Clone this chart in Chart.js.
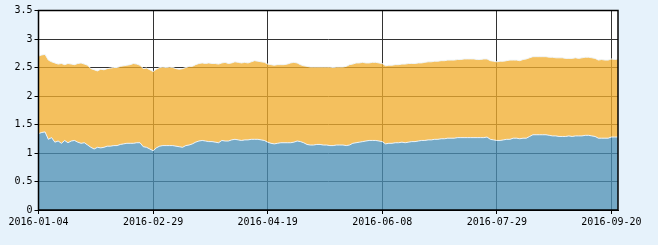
<!DOCTYPE html>
<html>
<head>
<meta charset="utf-8">
<script src="https://cdn.jsdelivr.net/npm/chart.js@4/dist/chart.umd.min.js"></script>
<style>
  html, body { margin: 0; padding: 0; background: #e6f2fb; }
  #wrap { width: 658px; height: 245px; }
</style>
</head>
<body>
<div id="wrap"><canvas id="chartGraph"></canvas></div>
<script>
const ctx = document.getElementById('chartGraph');

// trading days shown on the x axis
const dates = [
  '2016-01-04','2016-01-05','2016-01-06','2016-01-07','2016-01-08','2016-01-11','2016-01-12','2016-01-13','2016-01-14','2016-01-15',
  '2016-01-18','2016-01-19','2016-01-20','2016-01-21','2016-01-22','2016-01-25','2016-01-26','2016-01-27','2016-01-28','2016-01-29',
  '2016-02-01','2016-02-02','2016-02-03','2016-02-04','2016-02-05','2016-02-15','2016-02-16','2016-02-17','2016-02-18','2016-02-19',
  '2016-02-22','2016-02-23','2016-02-24','2016-02-25','2016-02-26','2016-02-29',
  '2016-03-01','2016-03-02','2016-03-03','2016-03-04','2016-03-07','2016-03-08','2016-03-09','2016-03-10','2016-03-11','2016-03-14',
  '2016-03-15','2016-03-16','2016-03-17','2016-03-18','2016-03-21','2016-03-22','2016-03-23','2016-03-24','2016-03-25','2016-03-28',
  '2016-03-29','2016-03-30','2016-03-31',
  '2016-04-01','2016-04-05','2016-04-06','2016-04-07','2016-04-08','2016-04-11','2016-04-12','2016-04-13','2016-04-14','2016-04-15',
  '2016-04-18','2016-04-19','2016-04-20','2016-04-21','2016-04-22','2016-04-25','2016-04-26','2016-04-27','2016-04-28','2016-04-29',
  '2016-05-03','2016-05-04','2016-05-05','2016-05-06','2016-05-09','2016-05-10','2016-05-11','2016-05-12','2016-05-13','2016-05-16',
  '2016-05-17','2016-05-18','2016-05-19','2016-05-20','2016-05-23','2016-05-24','2016-05-25','2016-05-26','2016-05-27','2016-05-30',
  '2016-05-31',
  '2016-06-01','2016-06-02','2016-06-03','2016-06-06','2016-06-07','2016-06-08','2016-06-13','2016-06-14','2016-06-15','2016-06-16',
  '2016-06-17','2016-06-20','2016-06-21','2016-06-22','2016-06-23','2016-06-24','2016-06-27','2016-06-28','2016-06-29','2016-06-30',
  '2016-07-01','2016-07-04','2016-07-05','2016-07-06','2016-07-07','2016-07-08','2016-07-11','2016-07-12','2016-07-13','2016-07-14',
  '2016-07-15','2016-07-18','2016-07-19','2016-07-20','2016-07-21','2016-07-22','2016-07-25','2016-07-26','2016-07-27','2016-07-28',
  '2016-07-29',
  '2016-08-01','2016-08-02','2016-08-03','2016-08-04','2016-08-05','2016-08-08','2016-08-09','2016-08-10','2016-08-11','2016-08-12',
  '2016-08-15','2016-08-16','2016-08-17','2016-08-18','2016-08-19','2016-08-22','2016-08-23','2016-08-24','2016-08-25','2016-08-26',
  '2016-08-29','2016-08-30','2016-08-31',
  '2016-09-01','2016-09-02','2016-09-05','2016-09-06','2016-09-07','2016-09-08','2016-09-09','2016-09-12','2016-09-13','2016-09-14',
  '2016-09-19','2016-09-20','2016-09-21','2016-09-22'
];

// labelled dates
const tickDates = ['2016-01-04', '2016-02-29', '2016-04-19', '2016-06-08', '2016-07-29', '2016-09-20'];

const yMin = 0, yMax = 3.5, yStep = 0.5;

// lower (blue) area
const blueVals = [
  1.34,1.36,1.37,1.24,1.27,1.19,1.21,1.17,1.22,1.18,
  1.21,1.22,1.19,1.17,1.18,1.14,1.10,1.07,1.10,1.09,
  1.10,1.12,1.12,1.13,1.13,1.15,1.16,1.17,1.17,1.17,
  1.18,1.18,1.11,1.10,1.07,1.04,1.09,1.12,1.13,1.13,
  1.13,1.13,1.12,1.11,1.10,1.13,1.14,1.16,1.19,1.21,
  1.22,1.21,1.20,1.20,1.19,1.18,1.22,1.21,1.21,1.23,
  1.24,1.23,1.22,1.23,1.23,1.24,1.24,1.24,1.23,1.22,
  1.19,1.17,1.16,1.17,1.18,1.18,1.18,1.18,1.19,1.21,
  1.20,1.18,1.15,1.14,1.14,1.15,1.15,1.14,1.14,1.13,
  1.13,1.14,1.14,1.14,1.13,1.14,1.17,1.18,1.19,1.20,
  1.21,1.22,1.22,1.22,1.21,1.20,1.16,1.17,1.17,1.18,
  1.18,1.19,1.18,1.19,1.20,1.20,1.21,1.22,1.22,1.23,
  1.23,1.24,1.24,1.25,1.25,1.26,1.26,1.26,1.27,1.27,
  1.27,1.27,1.27,1.27,1.27,1.27,1.27,1.28,1.24,1.23,
  1.22,1.22,1.23,1.24,1.24,1.26,1.26,1.25,1.26,1.26,
  1.29,1.32,1.32,1.32,1.32,1.32,1.31,1.30,1.30,1.29,
  1.29,1.29,1.30,1.29,1.30,1.30,1.30,1.31,1.31,1.30,
  1.29,1.26,1.26,1.26,1.26,1.28,1.28,1.28
];

// top edge of the orange area
const totalVals = [
  2.70,2.72,2.73,2.63,2.60,2.58,2.56,2.57,2.55,2.57,
  2.56,2.55,2.57,2.58,2.56,2.54,2.48,2.46,2.44,2.47,
  2.46,2.48,2.49,2.50,2.50,2.52,2.53,2.54,2.55,2.57,
  2.56,2.54,2.48,2.49,2.46,2.43,2.47,2.50,2.51,2.50,
  2.51,2.50,2.48,2.47,2.48,2.50,2.52,2.52,2.55,2.57,
  2.58,2.57,2.58,2.57,2.57,2.56,2.58,2.59,2.57,2.58,
  2.60,2.59,2.58,2.59,2.58,2.60,2.62,2.61,2.60,2.59,
  2.56,2.55,2.54,2.55,2.55,2.55,2.56,2.58,2.59,2.58,
  2.55,2.53,2.52,2.51,2.51,2.51,2.51,2.51,2.51,2.51,
  2.50,2.51,2.51,2.51,2.52,2.55,2.56,2.58,2.58,2.59,
  2.58,2.58,2.59,2.59,2.58,2.57,2.53,2.54,2.54,2.55,
  2.55,2.56,2.56,2.57,2.57,2.57,2.58,2.58,2.59,2.60,
  2.60,2.61,2.61,2.62,2.62,2.63,2.63,2.63,2.64,2.64,
  2.65,2.65,2.65,2.65,2.64,2.64,2.65,2.65,2.62,2.61,
  2.60,2.61,2.61,2.62,2.63,2.63,2.63,2.62,2.64,2.65,
  2.67,2.69,2.69,2.69,2.69,2.69,2.68,2.68,2.67,2.67,
  2.67,2.66,2.66,2.66,2.67,2.66,2.67,2.68,2.68,2.67,
  2.66,2.63,2.64,2.63,2.63,2.65,2.64,2.65
];

const isLabelled = (i) => tickDates.includes(dates[i]);

// backgrounds are painted behind everything, the frame on top
const frame = {
  id: 'frame',
  afterDraw(chart) {
    const c = chart.ctx, a = chart.chartArea;
    c.save();
    c.globalCompositeOperation = 'destination-over';
    c.fillStyle = '#ffffff';
    c.fillRect(a.left, a.top, a.right - a.left, a.bottom - a.top);
    c.fillStyle = '#e6f2fb';
    c.fillRect(0, 0, chart.width, chart.height);
    c.restore();
    c.save();
    c.strokeStyle = '#000';
    c.lineWidth = 1.5;
    c.strokeRect(a.left, a.top, a.right - a.left, a.bottom - a.top);
    c.restore();
  }
};

const monoFont = { family: 'DejaVu Sans Mono', size: 10 };

new Chart(ctx, {
  type: 'line',
  data: {
    labels: dates,
    datasets: [{
      data: blueVals,
      fill: 'origin',
      backgroundColor: 'rgba(76,143,181,0.77)',
      borderColor: 'rgba(238,246,252,0.95)',
      borderWidth: 1,
      pointRadius: 0
    }, {
      data: totalVals,
      fill: '-1',
      backgroundColor: 'rgba(241,173,46,0.77)',
      borderColor: 'rgba(238,246,252,0.95)',
      borderWidth: 1,
      pointRadius: 0
    }]
  },
  options: {
    responsive: true,
    maintainAspectRatio: false,
    animation: false,
    layout: { padding: { top: 10.5, right: 40 } },
    plugins: {
      legend: { display: false },
      tooltip: { enabled: false }
    },
    scales: {
      x: {
        offset: false,
        afterFit: (s) => { s.height = 35; },
        grid: {
          color: (c) => isLabelled(c.index) ? '#333333' : 'rgba(0,0,0,0)',
          tickColor: (c) => isLabelled(c.index) ? '#000000' : 'rgba(0,0,0,0)',
          tickLength: 4
        },
        border: { color: '#000' },
        ticks: {
          autoSkip: false,
          maxRotation: 0,
          padding: 2,
          color: '#000',
          font: monoFont,
          callback: (v, i) => isLabelled(i) ? dates[i] : ''
        }
      },
      y: {
        min: yMin,
        max: yMax,
        afterFit: (s) => { s.width = 38.5; },
        grid: {
          color: '#333333',
          tickColor: '#000000',
          tickLength: 4
        },
        border: { color: '#000' },
        ticks: {
          stepSize: yStep,
          padding: 2,
          color: '#000',
          font: monoFont,
          callback: (v) => String(v)
        }
      }
    }
  },
  plugins: [frame]
});
</script>
</body>
</html>
